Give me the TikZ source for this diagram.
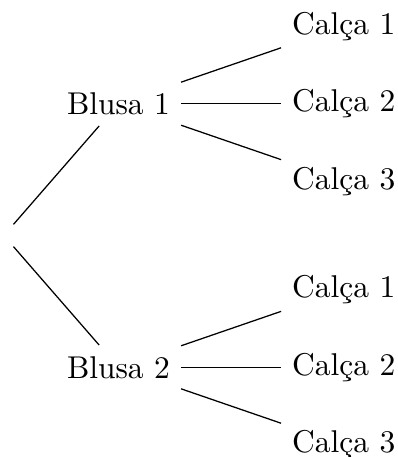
\documentclass[tikz,border=0pt]{standalone}
\begin{document}
\begin{tikzpicture}[x=0.3175pt, y=-0.3175pt,
  item/.style={inner sep=.3333em},
  branch/.style={draw=black, line width=0.4pt}]
\useasboundingbox (0,0) rectangle (398,457);
% root of the tree
\node[item] (r) at (3.8,235.5) {};
% first level
\node[item] (b1) at (118.5,103.7) {Blusa 1};
\node[item] (b2) at (118.5,367.3) {Blusa 2};
% second level
\node[item] (c11) at (343.8,26.2)  {Calça 1};
\node[item] (c12) at (343.8,103.7) {Calça 2};
\node[item] (c13) at (343.8,181.2) {Calça 3};
\node[item] (c21) at (343.8,289.8) {Calça 1};
\node[item] (c22) at (343.8,367.3) {Calça 2};
\node[item] (c23) at (343.8,444.8) {Calça 3};
% branches
\draw[branch] (r) -- (b1);
\draw[branch] (r) -- (b2);
\draw[branch] (b1) -- (c11);
\draw[branch] (b1) -- (c12);
\draw[branch] (b1) -- (c13);
\draw[branch] (b2) -- (c21);
\draw[branch] (b2) -- (c22);
\draw[branch] (b2) -- (c23);
\end{tikzpicture}
\end{document}
